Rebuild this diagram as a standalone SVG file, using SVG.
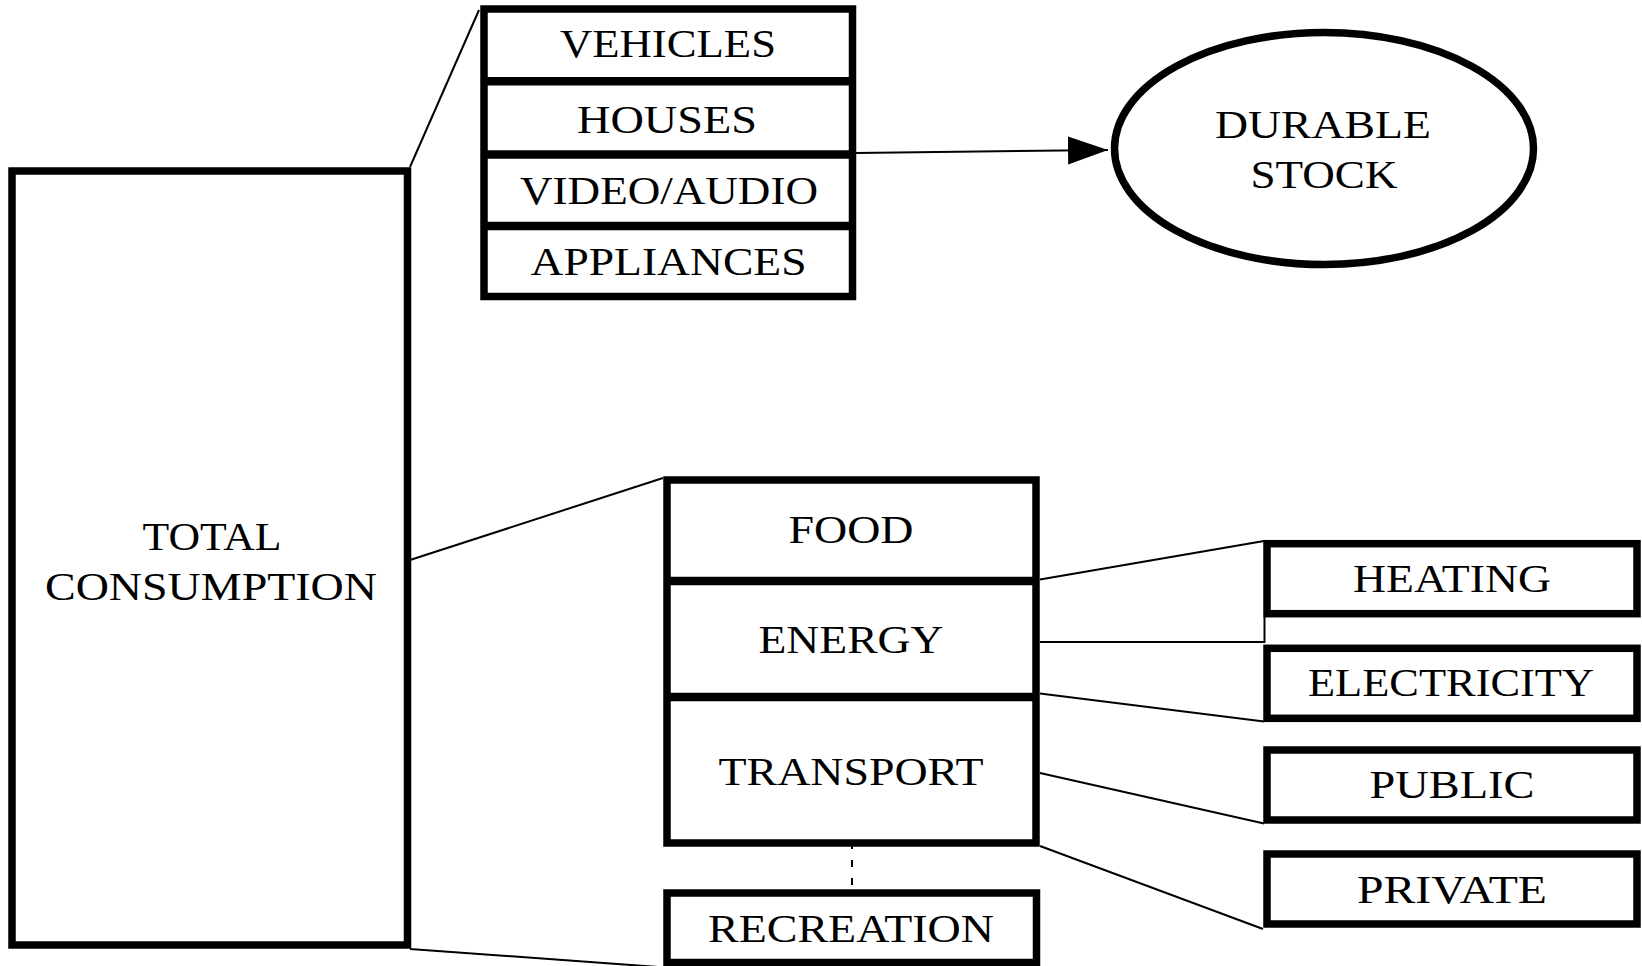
<svg xmlns="http://www.w3.org/2000/svg" width="1642" height="966" viewBox="0 0 1642 966">
<style>
.box{fill:#fff;stroke:#000;stroke-width:7.5}
.div{stroke:#000;stroke-width:8.5}
.con{fill:none;stroke:#000;stroke-width:2}
.lbl{font-family:"Liberation Serif","Times New Roman",serif;font-size:41px;fill:#000}
</style>
<defs>
<marker id="arrow" markerUnits="userSpaceOnUse" markerWidth="42" markerHeight="30" refX="40" refY="14" orient="auto">
<path d="M0,0 L40,14 L0,28 z" fill="#000"/>
</marker>
</defs>
<rect width="1642" height="966" fill="#fff"/>
<g id="connectors">
<line class="con" x1="410" y1="167" x2="479" y2="10"/>
<line class="con" x1="410" y1="560" x2="663" y2="478"/>
<line class="con" x1="410" y1="949" x2="700" y2="970"/>
<line class="con" x1="856" y1="153" x2="1108" y2="150" marker-end="url(#arrow)"/>
<line class="con" x1="1040" y1="579.5" x2="1264" y2="541"/>
<path class="con" d="M1040,642 H1264.5 V617"/>
<line class="con" x1="1040" y1="693.5" x2="1264" y2="721.5"/>
<line class="con" x1="1040" y1="773" x2="1264" y2="823.5"/>
<line class="con" x1="1040" y1="846" x2="1263" y2="929"/>
<line class="con" x1="852" y1="842" x2="852" y2="890" stroke-dasharray="7 11" stroke-width="2.5"/>
</g>
<g id="total">
<rect class="box" x="12" y="171" width="395.5" height="774"/>
<text class="lbl" x="142.5" y="550" textLength="139" lengthAdjust="spacingAndGlyphs">TOTAL</text>
<text class="lbl" x="45" y="600" textLength="332" lengthAdjust="spacingAndGlyphs">CONSUMPTION</text>
</g>
<g id="durables">
<rect class="box" x="484" y="9" width="368.5" height="287.5"/>
<line class="div" x1="484" y1="81.3" x2="852.5" y2="81.3"/>
<line class="div" x1="484" y1="154.5" x2="852.5" y2="154.5"/>
<line class="div" x1="484" y1="226" x2="852.5" y2="226"/>
<text class="lbl" x="560" y="57" textLength="216" lengthAdjust="spacingAndGlyphs">VEHICLES</text>
<text class="lbl" x="577" y="133" textLength="180" lengthAdjust="spacingAndGlyphs">HOUSES</text>
<text class="lbl" x="520" y="204" textLength="298" lengthAdjust="spacingAndGlyphs">VIDEO/AUDIO</text>
<text class="lbl" x="530.5" y="275" textLength="276" lengthAdjust="spacingAndGlyphs">APPLIANCES</text>
</g>
<g id="stock">
<ellipse class="box" cx="1324" cy="148.5" rx="209.5" ry="116" stroke-width="7"/>
<text class="lbl" x="1215" y="138" textLength="216" lengthAdjust="spacingAndGlyphs">DURABLE</text>
<text class="lbl" x="1250.5" y="188" textLength="147" lengthAdjust="spacingAndGlyphs">STOCK</text>
</g>
<g id="nondurables">
<rect class="box" x="667" y="480" width="369" height="363"/>
<line class="div" x1="667" y1="581" x2="1036" y2="581" stroke-width="9"/>
<line class="div" x1="667" y1="697" x2="1036" y2="697" stroke-width="8"/>
<text class="lbl" x="788.5" y="543" textLength="125" lengthAdjust="spacingAndGlyphs">FOOD</text>
<text class="lbl" x="758.5" y="653" textLength="185" lengthAdjust="spacingAndGlyphs">ENERGY</text>
<text class="lbl" x="718.5" y="785" textLength="265" lengthAdjust="spacingAndGlyphs">TRANSPORT</text>
</g>
<g id="recreation">
<rect class="box" x="667" y="893" width="369.5" height="69.5"/>
<text class="lbl" x="708" y="942" textLength="286" lengthAdjust="spacingAndGlyphs">RECREATION</text>
</g>
<g id="heating">
<rect class="box" x="1267" y="543.7" width="370" height="70"/>
<text class="lbl" x="1353" y="592" textLength="198" lengthAdjust="spacingAndGlyphs">HEATING</text>
</g>
<g id="electricity">
<rect class="box" x="1267" y="648.3" width="370" height="70"/>
<text class="lbl" x="1308" y="696" textLength="286" lengthAdjust="spacingAndGlyphs">ELECTRICITY</text>
</g>
<g id="public">
<rect class="box" x="1267" y="750" width="370" height="70"/>
<text class="lbl" x="1369.5" y="798" textLength="165" lengthAdjust="spacingAndGlyphs">PUBLIC</text>
</g>
<g id="private">
<rect class="box" x="1267" y="854" width="370" height="70"/>
<text class="lbl" x="1357" y="903" textLength="190" lengthAdjust="spacingAndGlyphs">PRIVATE</text>
</g>
</svg>
